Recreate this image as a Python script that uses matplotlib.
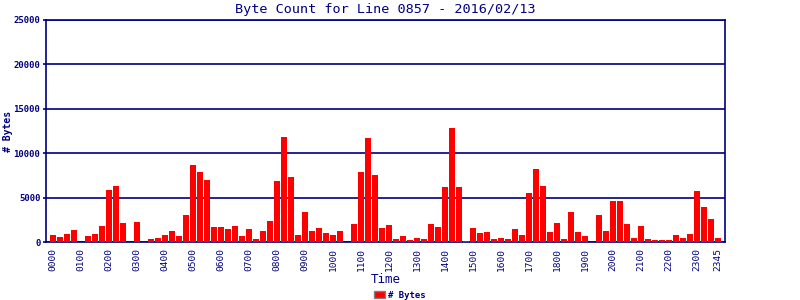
import matplotlib
matplotlib.use("Agg")
import matplotlib.pyplot as plt
import numpy as np

# 15 minute slots, byte counts
times = ["%02d%02d" % (h, m) for h in range(24) for m in (0, 15, 30, 45)]
byte_counts = [
    800, 560, 900, 1390,
    0, 680, 900, 1800,
    5860, 6320, 2140, 0,
    2260, 0, 340, 450,
    790, 1240, 680, 3050,
    8680, 7900, 7000, 1700,
    1700, 1470, 1800, 680,
    1470, 340, 1240, 2370,
    6880, 11840, 7330, 790,
    3380, 1240, 1580, 1020,
    790, 1240, 0, 2030,
    7890, 11730, 7560, 1580,
    1920, 340, 680, 230,
    450, 340, 2030, 1690,
    6200, 12860, 6200, 110,
    1580, 1020, 1130, 340,
    450, 340, 1470, 790,
    5530, 8230, 6320, 1130,
    2140, 340, 3380, 1130,
    680, 0, 3050, 1240,
    4620, 4620, 2030, 450,
    1800, 340, 230, 230,
    230, 790, 450, 900,
    5750, 3950, 2590, 450,
]
tick_labels = [t for t in times if t.endswith("00")] + ["2345"]

navy = "#000080"
mono = "DejaVu Sans Mono"

fig = plt.figure(figsize=(8, 3), dpi=100)
ax = fig.add_axes([46 / 800, 1 - 242 / 300, 679 / 800, 222 / 300])

x = np.arange(len(times))
ax.bar(x, byte_counts, width=0.86, color="#ff0000", edgecolor="none",
       label="# Bytes", zorder=3)

ax.set_xlim(-1.05, len(times))
ax.set_ylim(0, 25000)
ax.set_yticks(range(0, 25001, 5000))
ax.set_yticklabels([str(v) for v in range(0, 25001, 5000)],
                   fontsize=6.5, fontweight="bold", family=mono, color=navy)
ax.yaxis.grid(True, color=navy, linewidth=1.2, zorder=1)
ax.tick_params(axis="y", length=2, width=1.2, color=navy, pad=2)

tick_pos = [times.index(t) for t in tick_labels]
ax.set_xticks(tick_pos)
ax.set_xticklabels(tick_labels, rotation=90, fontsize=6.8, family=mono,
                   color=navy)
ax.tick_params(axis="x", length=0, pad=4)

for s in ax.spines.values():
    s.set_color(navy)
    s.set_linewidth(1.2)

ax.set_title("Byte Count for Line 0857 - 2016/02/13", fontsize=9.7,
             family=mono, color=navy, pad=5)
ax.set_ylabel("# Bytes", fontsize=7, fontweight="bold", family=mono,
              color=navy, va="center")
ax.yaxis.set_label_coords(-0.056, 0.5)
ax.set_xlabel("Time", fontsize=9, family=mono, color=navy, labelpad=2)

leg = fig.legend(loc="center", bbox_to_anchor=(0.5, 1 - 295 / 300), frameon=False,
                 prop={"family": mono, "size": 6.5, "weight": "bold"},
                 handlelength=1.2, handleheight=0.9, handletextpad=0.4)
for t in leg.get_texts():
    t.set_color(navy)
for h in leg.legend_handles:
    h.set_edgecolor("#808080")
    h.set_linewidth(1)

fig.savefig("out.png", dpi=100)
